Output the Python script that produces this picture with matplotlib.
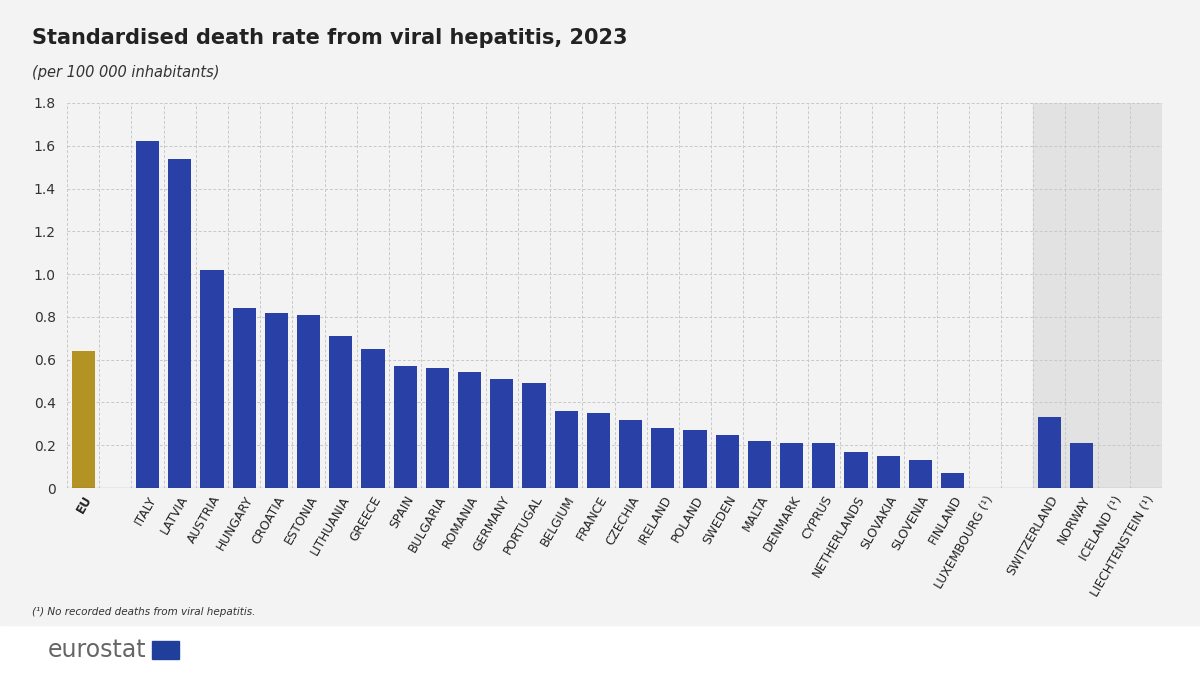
import matplotlib
matplotlib.use("Agg")
import matplotlib.pyplot as plt
from matplotlib.patches import Rectangle

labels = ["EU", "", "ITALY", "LATVIA", "AUSTRIA", "HUNGARY", "CROATIA", "ESTONIA", "LITHUANIA",
          "GREECE", "SPAIN", "BULGARIA", "ROMANIA", "GERMANY", "PORTUGAL", "BELGIUM", "FRANCE",
          "CZECHIA", "IRELAND", "POLAND", "SWEDEN", "MALTA", "DENMARK", "CYPRUS", "NETHERLANDS",
          "SLOVAKIA", "SLOVENIA", "FINLAND", "LUXEMBOURG (¹)", "", "SWITZERLAND", "NORWAY",
          "ICELAND (¹)", "LIECHTENSTEIN (¹)"]
values = [0.64, None, 1.62, 1.54, 1.02, 0.84, 0.82, 0.81, 0.71, 0.65, 0.57, 0.56, 0.54, 0.51,
          0.49, 0.36, 0.35, 0.32, 0.28, 0.27, 0.25, 0.22, 0.21, 0.21, 0.17, 0.15, 0.13, 0.07, 0,
          None, 0.33, 0.21, 0, 0]

BG = "#f3f3f3"
fig = plt.figure(figsize=(12, 6.75), dpi=100)
fig.patch.set_facecolor("white")
fig.add_artist(Rectangle((0, 50/675), 1, 625/675, transform=fig.transFigure, color=BG, zorder=0))

ax = fig.add_axes([67/1200, 1-488/675, 1095/1200, 385/675])
ax.set_facecolor(BG)
n = len(labels)
ax.set_xlim(-0.5, n - 0.5)
ax.set_ylim(0, 1.8)
ax.axvspan(29.5, n - 0.5, color="#e2e2e2", zorder=0)
for i in range(n + 1):
    ax.axvline(i - 0.5, color="#c8c8c8", lw=0.7, ls=(0, (3, 2)), zorder=1)
for y in [0.2, 0.4, 0.6, 0.8, 1.0, 1.2, 1.4, 1.6, 1.8]:
    ax.axhline(y, color="#c8c8c8", lw=0.7, ls=(0, (3, 2)), zorder=1)

xs = [i for i, v in enumerate(values) if v is not None]
vs = [v for v in values if v is not None]
cols = ["#b39324" if labels[i] == "EU" else "#2941a6" for i in xs]
ax.bar(xs, vs, width=0.72, color=cols, zorder=2)

ax.set_yticks([0, 0.2, 0.4, 0.6, 0.8, 1.0, 1.2, 1.4, 1.6, 1.8])
ax.set_yticklabels(["0", "0.2", "0.4", "0.6", "0.8", "1.0", "1.2", "1.4", "1.6", "1.8"],
                   fontsize=10, color="#333333")
ax.set_xticks(range(n))
ax.set_xticklabels(labels, rotation=60, ha="right", rotation_mode="anchor", fontsize=8.8,
                   color="#222222")
ax.get_xticklabels()[0].set_fontweight("bold")
ax.tick_params(length=0, pad=8)
ax.tick_params(axis="x", pad=4)
for s in ax.spines.values():
    s.set_visible(False)
ax.axhline(0, color="#333333", lw=0.8, zorder=3)

fig.text(32/1200, 1-38/675, "Standardised death rate from viral hepatitis, 2023", fontsize=15,
         fontweight="bold", color="#222222", va="center")
fig.text(32/1200, 1-72/675, "(per 100 000 inhabitants)", fontsize=10.5, style="italic",
         color="#333333", va="center")
fig.text(32/1200, 1-612/675, "(¹) No recorded deaths from viral hepatitis.", fontsize=7.5,
         style="italic", color="#333333", va="center")
fig.text(48/1200, 1-650/675, "eurostat", fontsize=17, color="#666666", va="center")
fig.add_artist(Rectangle((152/1200, 1-659/675), 27/1200, 18/675, transform=fig.transFigure,
                         color="#1f3f9a", zorder=3))

fig.savefig("out.png", dpi=100, facecolor=fig.get_facecolor())
